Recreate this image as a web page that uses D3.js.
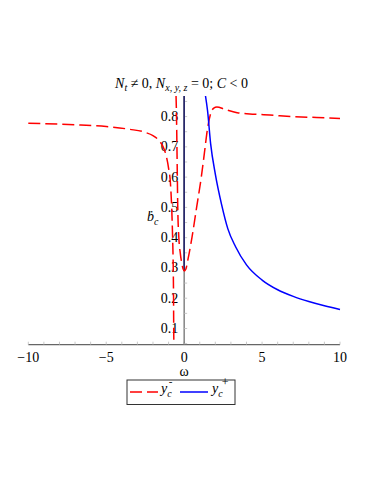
<!DOCTYPE html>
<html>
<head>
<meta charset="utf-8">
<script src="https://cdn.jsdelivr.net/npm/d3@7"></script>
<style>
  body { margin: 0; background: #fff; }
  text { font-family: "Liberation Serif", "Times New Roman", Times, serif; }
</style>
</head>
<body>
<script>
// values
const yMinusLeftW = [-10, -7, -5, -3.5, -2.5, -2, -1.6, -1.35, -1.15, -1.0, -0.88, -0.8, -0.74, -0.7, -0.68, -0.67, -0.66];
const yMinusLeftV = [0.778, 0.773, 0.767, 0.758, 0.748, 0.737, 0.72, 0.70, 0.67, 0.63, 0.58, 0.5, 0.4, 0.3, 0.2, 0.1, 0.05];
const yMinusRightW = [-0.52, -0.49, -0.45, -0.41, -0.34, -0.25, -0.15, -0.06, 0, 0.1, 0.25, 0.5, 0.8, 1.1, 1.3, 1.5, 1.7, 1.9, 2.1, 2.6, 3.4, 4.5, 5.5, 7, 8.5, 10];
const yMinusRightV = [0.868, 0.8, 0.65, 0.5, 0.4, 0.35, 0.315, 0.296, 0.29, 0.295, 0.33, 0.4, 0.5, 0.6, 0.68, 0.76, 0.81, 0.828, 0.832, 0.824, 0.813, 0.808, 0.805, 0.8, 0.797, 0.794];
const yPlusW = [1.37, 1.5, 1.7, 2.0, 2.4, 2.8, 3.3, 4.0, 5.0, 6.0, 7.0, 8.0, 9.0, 10];
const yPlusV = [0.868, 0.82, 0.71, 0.61, 0.51, 0.43, 0.37, 0.31, 0.26, 0.228, 0.206, 0.189, 0.175, 0.163];
const zeroLineV = [0.29, 0.868];
const xTicks = [-10, -5, 0, 5, 10];
const yTicks = [0.1, 0.2, 0.3, 0.4, 0.5, 0.6, 0.7, 0.8];

const width = 374, height = 484;
const svg = d3.select("body").append("svg")
    .attr("width", width).attr("height", height);

const x = d3.scaleLinear().domain([-10, 10]).range([28.3, 340]);
const y = d3.scaleLinear().domain([0.0465, 0.868]).range([344.7, 96]);

const axisColor = "#666";

// x axis with minor ticks
const xAxis = svg.append("g").attr("transform", `translate(0,${y(0.0465)})`);
xAxis.append("line").attr("x1", x(-10)).attr("x2", x(10)).attr("stroke", axisColor).attr("stroke-width", 1.2);
xAxis.selectAll("line.minor").data(d3.range(-10, 11, 1)).join("line")
    .attr("class", "minor")
    .attr("x1", d => x(d)).attr("x2", d => x(d))
    .attr("y1", 0).attr("y2", -3)
    .attr("stroke", "#bbb").attr("stroke-width", 0.8);
xAxis.selectAll("text").data(xTicks).join("text")
    .attr("x", d => x(d)).attr("y", 17)
    .attr("text-anchor", "middle").attr("font-size", 14)
    .text(d => d < 0 ? "\u2212" + Math.abs(d) : d);

// y axis
const yAxis = svg.append("g").attr("transform", `translate(${x(0)},0)`);
yAxis.append("line").attr("y1", y(0.0465)).attr("y2", y(0.868)).attr("stroke", axisColor).attr("stroke-width", 1.2);
yAxis.selectAll("line.minor").data(d3.range(0.05, 0.87, 0.05)).join("line")
    .attr("class", "minor")
    .attr("x1", 0).attr("x2", 3)
    .attr("y1", d => y(d)).attr("y2", d => y(d))
    .attr("stroke", "#bbb").attr("stroke-width", 0.8);
yAxis.selectAll("text").data(yTicks).join("text")
    .attr("x", -6).attr("y", d => y(d) + 4.5)
    .attr("text-anchor", "end").attr("font-size", 14)
    .text(d => d.toFixed(1));

const line = d3.line()
    .x(d => x(d[0])).y(d => y(d[1]))
    .curve(d3.curveMonotoneX);

// navy vertical line at omega = 0
svg.append("path")
    .datum(zeroLineV.map(v => [0, v]))
    .attr("d", d3.line().x(d => x(d[0])).y(d => y(d[1])))
    .attr("stroke", "#23236b").attr("stroke-width", 1.6).attr("fill", "none");

// y_c^- (red dashed)
svg.append("path")
    .datum(d3.zip(yMinusLeftW, yMinusLeftV))
    .attr("d", line)
    .attr("stroke", "#ff0000").attr("stroke-width", 1.5).attr("fill", "none")
    .attr("stroke-dasharray", "12,5");
svg.append("path")
    .datum(d3.zip(yMinusRightW, yMinusRightV))
    .attr("d", line)
    .attr("stroke", "#ff0000").attr("stroke-width", 1.5).attr("fill", "none")
    .attr("stroke-dasharray", "12,5");

// y_c^+ (blue)
svg.append("path")
    .datum(d3.zip(yPlusW, yPlusV))
    .attr("d", line)
    .attr("stroke", "#0000ff").attr("stroke-width", 1.5).attr("fill", "none");

// title
const title = svg.append("text")
    .attr("x", 181.5).attr("y", 88)
    .attr("text-anchor", "middle").attr("font-size", 14);
title.append("tspan").attr("font-style", "italic").text("N");
title.append("tspan").attr("font-style", "italic").attr("font-size", 10).attr("dy", 3).text("t");
title.append("tspan").attr("dy", -3).text(" \u2260 0, ");
title.append("tspan").attr("font-style", "italic").text("N");
title.append("tspan").attr("font-style", "italic").attr("font-size", 10).attr("dy", 3).text("x, y, z");
title.append("tspan").attr("dy", -3).text(" = 0; ");
title.append("tspan").attr("font-style", "italic").text("C");
title.append("tspan").text(" < 0");

// y label (b dot, subscript c)
const yl = svg.append("text")
    .attr("x", 147).attr("y", 221).attr("font-size", 14);
yl.append("tspan").attr("font-style", "italic").text("\u1E03");
yl.append("tspan").attr("font-style", "italic").attr("font-size", 10).attr("dy", 4).text("c");

// x label
svg.append("text")
    .attr("x", x(0)).attr("y", 376)
    .attr("text-anchor", "middle").attr("font-size", 14)
    .text("\u03C9");

// legend
const lg = svg.append("g");
lg.append("rect").attr("x", 127).attr("y", 380).attr("width", 108).attr("height", 24.5)
    .attr("fill", "none").attr("stroke", "#333").attr("stroke-width", 1);
lg.append("line").attr("x1", 130).attr("x2", 158).attr("y1", 392).attr("y2", 392)
    .attr("stroke", "#ff0000").attr("stroke-width", 1.5).attr("stroke-dasharray", "12,5");
const l1 = lg.append("text").attr("x", 161).attr("y", 393).attr("font-size", 14);
l1.append("tspan").attr("font-style", "italic").text("y");
l1.append("tspan").attr("font-style", "italic").attr("font-size", 10).attr("dy", 4).text("c");
l1.append("tspan").attr("font-size", 11).attr("dx", -3).attr("dy", -12).text("-");
lg.append("line").attr("x1", 180).attr("x2", 208).attr("y1", 392).attr("y2", 392)
    .attr("stroke", "#0000ff").attr("stroke-width", 1.5);
const l2 = lg.append("text").attr("x", 212).attr("y", 393).attr("font-size", 14);
l2.append("tspan").attr("font-style", "italic").text("y");
l2.append("tspan").attr("font-style", "italic").attr("font-size", 10).attr("dy", 4).text("c");
l2.append("tspan").attr("font-size", 12).attr("dx", -1).attr("dy", -11).text("+");
</script>
</body>
</html>
